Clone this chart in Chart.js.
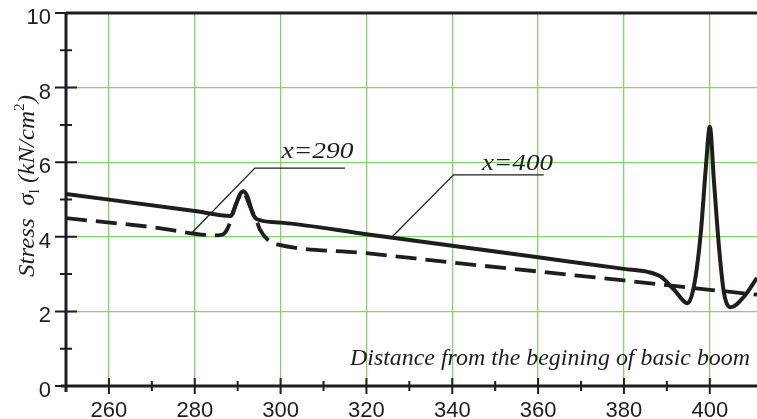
<!DOCTYPE html>
<html>
<head>
<meta charset="utf-8">
<script src="https://cdn.jsdelivr.net/npm/chart.js@4/dist/chart.umd.min.js"></script>
<style>
  html, body { margin: 0; padding: 0; background: #fff; }
  canvas { display: block; }
</style>
</head>
<body>
<canvas id="stress-chart" width="757" height="419"></canvas>
<script>
// ─── DATA ─────────────────────────────────────────────────────────────────────

const xMajor = [260, 280, 300, 320, 340, 360, 380, 400];
const xMinor = [270, 290, 310, 330, 350, 370, 390];
const yMajor = [0, 2, 4, 6, 8, 10];
const yMinor = [1, 3, 5, 7, 9];

// solid curve: section x=400
const solidX = [250, 280, 288.4, 289.7, 290.6, 291.3, 292.2, 293.6, 294.5, 300, 320, 340, 360, 380, 385.5, 388.6, 391.7, 394.8, 396.3, 397.9, 399.1, 400, 401, 402.2, 403.3, 404.9, 408, 411];
const solidY = [5.15, 4.69, 4.56, 4.9, 5.15, 5.22, 5.1, 4.6, 4.47, 4.38, 4.07, 3.76, 3.45, 3.14, 3.06, 2.93, 2.58, 2.22, 2.67, 4.1, 5.89, 6.95, 5.44, 3.65, 2.5, 2.11, 2.4, 2.9];

// dashed curve: section x=290
const dashX = [250, 270, 285, 286.5, 287.8, 289.5, 291.2, 293, 294.5, 295.2, 297.5, 299.4, 320, 340, 360, 380, 400, 411];
const dashY = [4.5, 4.26, 4.04, 4.06, 4.26, 4.85, 5.2, 4.78, 4.4, 4.19, 3.87, 3.79, 3.56, 3.31, 3.07, 2.83, 2.58, 2.45];

const noteLabels = ['x=290', 'x=400'];

// ─── STYLE ────────────────────────────────────────────────────────────────────

const INK = '#1f1d1d';
const GRID = '#86d06f';
const SERIF_IT = 'italic 23px "Liberation Serif", "Times New Roman", serif';

// annotation geometry in data units (leader knee, leader end, text anchor)
const noteGeom = [
  { kx: 294.0, ky: 5.84, ex: 315.0, tx: 279.5, ty: 4.13, lx: 308.6, ly: 6.11, w: 72 },
  { kx: 340.3, ky: 5.66, ex: 361.3, tx: 325.9, ty: 3.99, lx: 355.2, ly: 5.78, w: 71 },
];

function stretchText(ctx, str, x, y, w) {
  const m = ctx.measureText(str).width;
  ctx.save();
  ctx.translate(x, y);
  ctx.scale(w / m, 1);
  ctx.fillText(str, 0, 0);
  ctx.restore();
}

// no label overflow padding, the plot box is fixed by layout padding
function noOverflow(axis) {
  axis.paddingTop = 0;
  axis.paddingBottom = 0;
  axis.paddingLeft = 0;
  axis.paddingRight = 0;
}

const decorPlugin = {
  id: 'decor',
  afterDraw(chart) {
    const { ctx, chartArea: { left, right, top, bottom }, scales: { x, y } } = chart;
    ctx.save();
    ctx.strokeStyle = INK;
    ctx.fillStyle = INK;

    // frame: left axis, bottom axis, top border
    ctx.lineWidth = 3;
    ctx.beginPath();
    ctx.moveTo(left, top - 1); ctx.lineTo(left, bottom + 6);
    ctx.moveTo(left - 5, bottom); ctx.lineTo(right, bottom);
    ctx.moveTo(left, top); ctx.lineTo(right, top);
    ctx.stroke();

    // tick marks (through the axis)
    ctx.lineWidth = 2;
    ctx.beginPath();
    yMajor.forEach(v => { const p = y.getPixelForValue(v); ctx.moveTo(left - 11, p); ctx.lineTo(left + 11, p); });
    yMinor.forEach(v => { const p = y.getPixelForValue(v); ctx.moveTo(left - 6, p); ctx.lineTo(left + 6, p); });
    xMajor.forEach(v => { const p = x.getPixelForValue(v); ctx.moveTo(p, bottom - 8); ctx.lineTo(p, bottom + 8); });
    xMinor.forEach(v => { const p = x.getPixelForValue(v); ctx.moveTo(p, bottom - 5); ctx.lineTo(p, bottom + 5); });
    ctx.stroke();

    // annotation leaders + labels
    ctx.lineWidth = 1.3;
    ctx.font = SERIF_IT;
    ctx.textAlign = 'left';
    ctx.textBaseline = 'alphabetic';
    noteGeom.forEach((g, i) => {
      const kx = x.getPixelForValue(g.kx), ky = y.getPixelForValue(g.ky);
      ctx.beginPath();
      ctx.moveTo(x.getPixelForValue(g.tx), y.getPixelForValue(g.ty));
      ctx.lineTo(kx, ky);
      ctx.lineTo(x.getPixelForValue(g.ex), ky);
      ctx.stroke();
      const cx = x.getPixelForValue(g.lx);
      stretchText(ctx, noteLabels[i], cx - g.w / 2, y.getPixelForValue(g.ly), g.w);
    });

    // x axis title, inside the plot
    ctx.font = SERIF_IT;
    stretchText(ctx, 'Distance from the begining of basic boom', 350, 365, 400);

    // y axis title, rotated, with sub/superscript
    ctx.save();
    ctx.translate(34, 277);
    ctx.rotate(-Math.PI / 2);
    const parts = [
      { t: 'Stress', f: SERIF_IT, dy: 0 },
      { t: '  ', f: SERIF_IT, dy: 0 },
      { t: 'σ', f: 'italic 23px "Liberation Serif", serif', dy: 0 },
      { t: 'l', f: '14px "Liberation Serif", serif', dy: 5 },
      { t: ' (kN/cm', f: SERIF_IT, dy: 0 },
      { t: '2', f: '14px "Liberation Serif", serif', dy: -10 },
      { t: ')', f: SERIF_IT, dy: 0 },
    ];
    let total = 0;
    parts.forEach(p => { ctx.font = p.f; p.w = ctx.measureText(p.t).width; total += p.w; });
    ctx.scale(182 / total, 1);
    let cur = 0;
    parts.forEach(p => { ctx.font = p.f; ctx.fillText(p.t, cur, p.dy); cur += p.w; });
    ctx.restore();

    ctx.restore();
  },
};

// ─── CHART ────────────────────────────────────────────────────────────────────

const tickFont = { family: '"Liberation Sans", Arial, sans-serif', size: 22 };

new Chart(document.getElementById('stress-chart'), {
  type: 'line',
  data: {
    datasets: [
      {
        label: 'x=400',
        data: solidX.map((v, i) => ({ x: v, y: solidY[i] })),
        borderColor: INK,
        borderWidth: 4,
        pointRadius: 0,
        cubicInterpolationMode: 'monotone',
        fill: false,
      },
      {
        label: 'x=290',
        data: dashX.map((v, i) => ({ x: v, y: dashY[i] })),
        borderColor: INK,
        borderWidth: 3.8,
        borderDash: [21, 9],
        pointRadius: 0,
        cubicInterpolationMode: 'monotone',
        fill: false,
      },
    ],
  },
  options: {
    responsive: false,
    animation: false,
    devicePixelRatio: 1,
    layout: { padding: { top: 13, left: 0, right: 0, bottom: 0 } },
    plugins: { legend: { display: false }, tooltip: { enabled: false } },
    scales: {
      x: {
        type: 'linear',
        min: 250,
        max: 411,
        afterBuildTicks: axis => { axis.ticks = xMajor.map(v => ({ value: v })); },
        afterFit: axis => { axis.height = 33; noOverflow(axis); },
        grid: { color: GRID, lineWidth: 1.3, drawTicks: false },
        border: { display: false },
        ticks: { color: INK, font: tickFont, padding: 12, maxRotation: 0 },
      },
      y: {
        min: 0,
        max: 10,
        afterBuildTicks: axis => { axis.ticks = yMajor.map(v => ({ value: v })); },
        afterFit: axis => { axis.width = 66; noOverflow(axis); },
        grid: {
          color: c => (c.tick && (c.tick.value === 0 || c.tick.value === 10)) ? 'rgba(0,0,0,0)' : GRID,
          lineWidth: 1.3,
          drawTicks: false,
        },
        border: { display: false },
        ticks: { color: INK, font: tickFont, padding: 15, labelOffset: 5 },
      },
    },
  },
  plugins: [decorPlugin],
});
</script>
</body>
</html>
